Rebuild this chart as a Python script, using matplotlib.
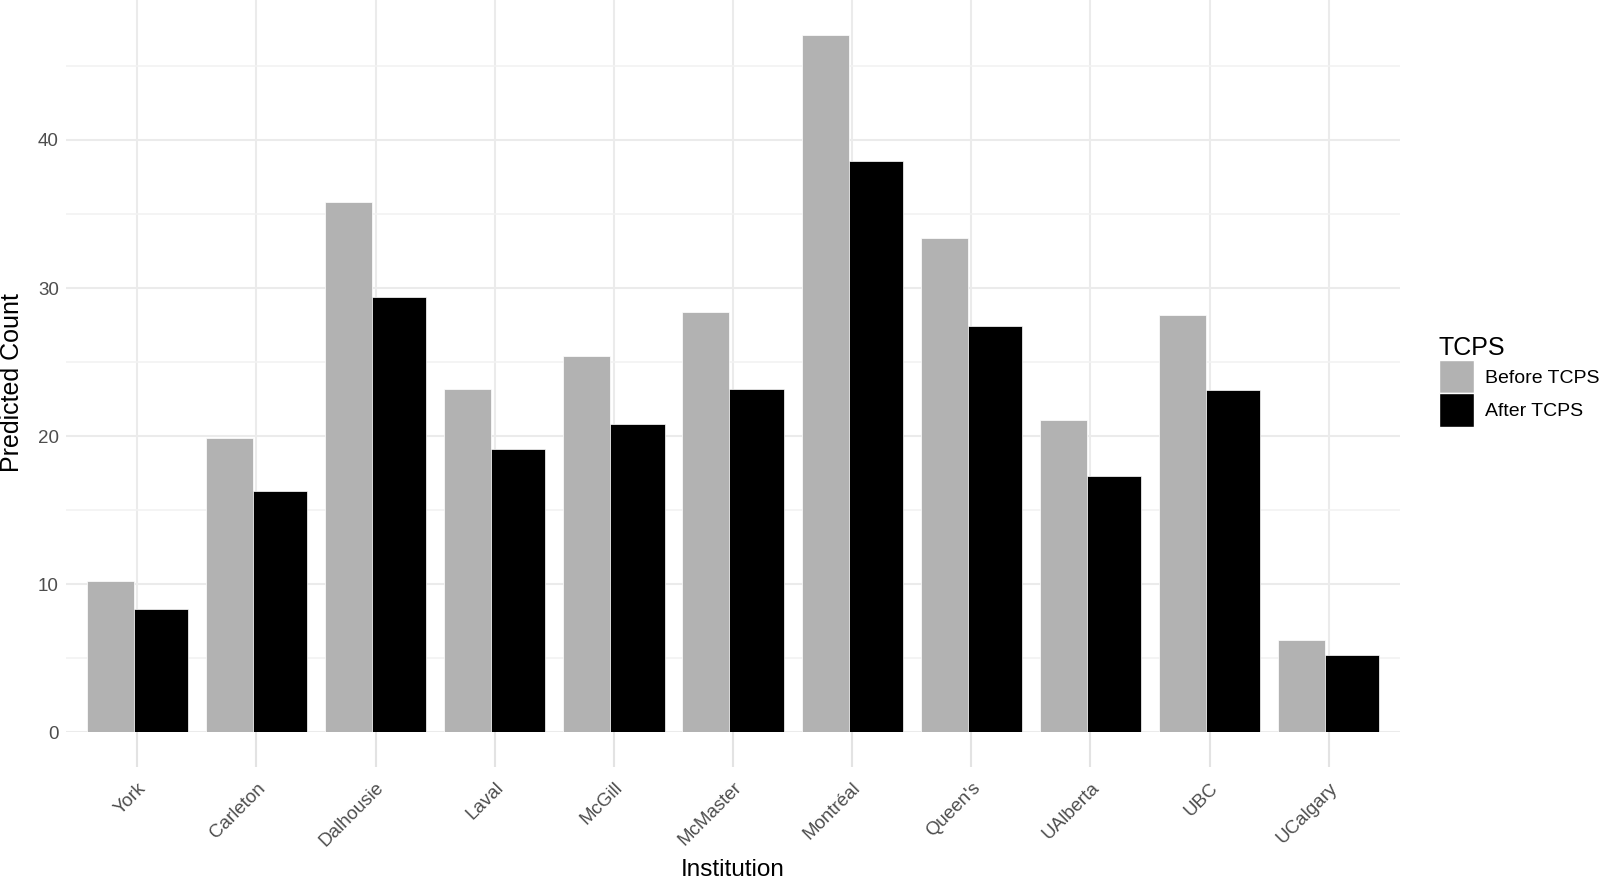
import numpy as np
import matplotlib
matplotlib.use("Agg")
import matplotlib.pyplot as plt
from matplotlib.patches import Patch
from matplotlib.ticker import MultipleLocator

plt.rcParams['font.family'] = ['Liberation Sans', 'DejaVu Sans']

institutions = ["York", "Carleton", "Dalhousie", "Laval", "McGill", "McMaster",
                "Montréal", "Queen's", "UAlberta", "UBC", "UCalgary"]
before = [10.2, 19.9, 35.8, 23.2, 25.4, 28.4, 47.1, 33.4, 21.1, 28.2, 6.2]
after = [8.3, 16.3, 29.4, 19.1, 20.8, 23.2, 38.6, 27.4, 17.3, 23.1, 5.2]
series_names = ["Before TCPS", "After TCPS"]
colors = ["#B2B2B2", "#000000"]

fig = plt.figure(figsize=(16.04, 8.81), dpi=100)
ax = fig.add_axes([0.041, 0.169, 0.832, 0.831])

x = np.arange(len(institutions))
# grey bar a bit narrower than black, as in the source
ax.bar(x - 0.425, before, width=0.395, align="edge", color=colors[0],
       edgecolor="white", linewidth=0.5, zorder=3)
ax.bar(x - 0.03, after, width=0.455, align="edge", color=colors[1],
       edgecolor="white", linewidth=0.5, zorder=3)

ax.set_xlim(-0.6, len(institutions) - 0.4)
ax.set_ylim(0, max(before) * 1.05)
ax.yaxis.set_major_locator(MultipleLocator(10))
ax.yaxis.set_minor_locator(MultipleLocator(5))
ax.set_xticks(x)
ax.set_xticklabels(institutions, rotation=45, ha="right", rotation_mode="anchor")

ax.grid(True, which="major", color="#EBEBEB", linewidth=1.5, zorder=0)
ax.grid(True, which="minor", axis="y", color="#F2F2F2", linewidth=1.2, zorder=0)
ax.set_axisbelow(True)
for s in ax.spines.values():
    s.set_visible(False)
ax.tick_params(axis="y", which="both", length=0, labelsize=13.5, labelcolor="#4D4D4D", pad=5)
ax.tick_params(axis="x", length=25, width=1.5, color="#E3E3E3", labelsize=13.5,
               labelcolor="#4D4D4D", pad=9)

ax.set_xlabel("Institution", fontsize=17.5, va="center")
ax.xaxis.set_label_coords(0.5, -0.189)
ax.set_ylabel("Predicted Count", fontsize=18, va="center")
ax.yaxis.set_label_coords(-0.0405, 0.478)

handles = [Patch(facecolor=c, edgecolor="white", label=n) for c, n in zip(colors, series_names)]
leg = fig.legend(handles=handles, title="TCPS", loc="upper left",
                 bbox_to_anchor=(0.897, 0.619), frameon=False, fontsize=14,
                 title_fontsize=18, handlelength=1.8, handleheight=2.3,
                 labelspacing=0.0, handletextpad=0.6, borderaxespad=0, borderpad=0)
leg._legend_box.align = "left"

fig.savefig("out.png", dpi=100)
